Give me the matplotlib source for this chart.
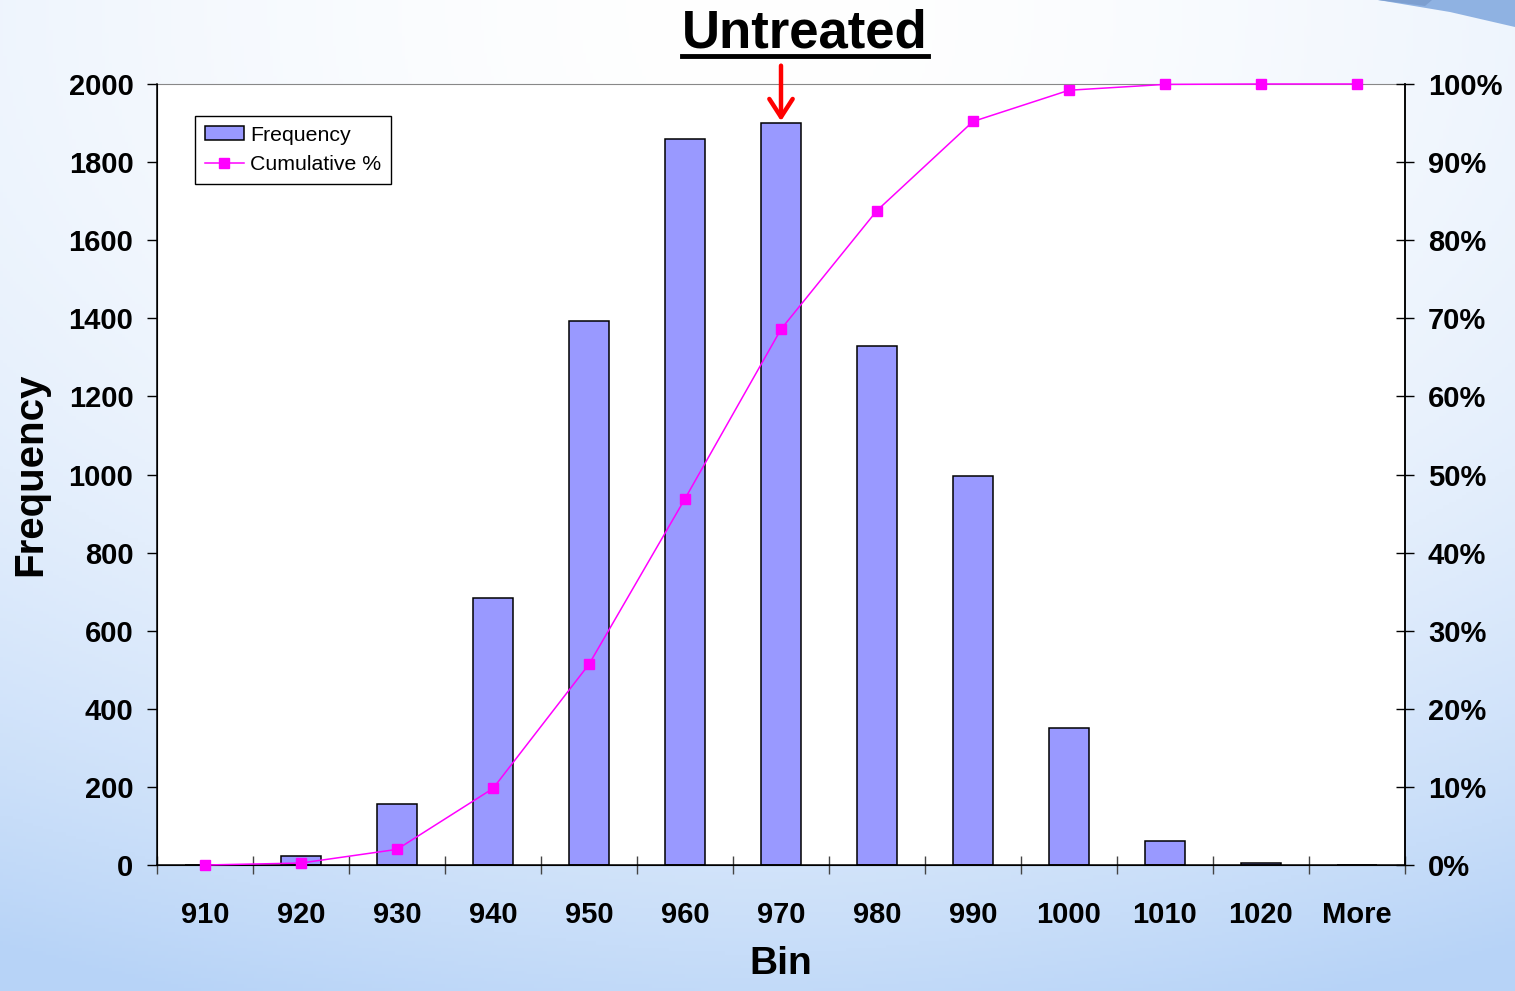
import numpy as np
import matplotlib
matplotlib.use("Agg")
import matplotlib.pyplot as plt
from matplotlib.lines import Line2D
from matplotlib.patches import Polygon
from matplotlib.ticker import FixedLocator, FuncFormatter

plt.rcParams['font.family'] = ['Liberation Sans', 'DejaVu Sans']

bins = ['910', '920', '930', '940', '950', '960', '970', '980', '990',
        '1000', '1010', '1020', 'More']
frequency = [0, 22, 156, 684, 1393, 1859, 1900, 1329, 996, 351, 61, 4, 0]
cumulative = [0.0, 0.25, 2.0, 9.8, 25.7, 46.9, 68.6, 83.8, 95.2, 99.2, 99.95, 100.0, 100.0]

W, H = 1515, 991
fig = plt.figure(figsize=(W / 100, H / 100), dpi=100)

# soft white-to-blue slide background
bg = fig.add_axes([0, 0, 1, 1], zorder=-10)
yy, xx = np.mgrid[0:1:300j, 0:1:460j]
t = np.clip(0.85 * yy ** 2.2 + 0.35 * np.abs(xx - 0.5) ** 1.6 * 2, 0, 1)
white = np.array([1.0, 1.0, 1.0])
blue = np.array([0.72, 0.83, 0.97])
img = white[None, None, :] * (1 - t[..., None]) + blue[None, None, :] * t[..., None]
bg.imshow(img, extent=[0, 1, 0, 1], aspect='auto', origin='upper')
bg.set_xlim(0, 1)
bg.set_ylim(0, 1)
bg.set_axis_off()
# blue swoosh in the top right corner
bg.add_patch(Polygon([(1378 / W, 1), (1.0, 1), (1.0, 1 - 27 / H), (1450 / W, 1 - 12 / H)],
                     closed=True, facecolor='#8fb2e2', edgecolor='none'))
bg.add_patch(Polygon([(1378 / W, 1), (1432 / W, 1), (1425 / W, 1 - 6 / H)],
                     closed=True, facecolor='#7d9fd0', edgecolor='none'))

left, right, top, bottom = 157, 1405, 84, 865
ax = fig.add_axes([left / W, (H - bottom) / H, (right - left) / W, (bottom - top) / H])
ax.set_facecolor('white')

x = np.arange(len(bins))
ax.bar(x, frequency, width=0.42, color='#9999ff', edgecolor='black', linewidth=1.1,
       label='Frequency', zorder=2)
ax.set_xlim(-0.5, len(bins) - 0.5)
ax.set_ylim(0, 2000)
ax.set_yticks(range(0, 2001, 200))

# category boundaries carry the ticks, labels sit at the centres
ax.xaxis.set_major_locator(FixedLocator(np.arange(-0.5, len(bins), 1.0)))
ax.xaxis.set_minor_locator(FixedLocator(x))
ax.xaxis.set_major_formatter(FuncFormatter(lambda v, p: ''))
ax.set_xticks(x, minor=True)
ax.set_xticklabels(bins, minor=True)
ax.tick_params(axis='x', which='major', direction='inout', length=13, width=1, color='#444444')
ax.tick_params(axis='x', which='minor', length=0, pad=26, labelsize=21)
ax.tick_params(axis='y', direction='out', length=7, width=1, pad=10, labelsize=21)
for lab in ax.get_xticklabels(minor=True) + ax.get_yticklabels():
    lab.set_fontweight('bold')

ax.spines['top'].set_color('#888888')
for s in ['left', 'bottom', 'right']:
    ax.spines[s].set_color('black')
    ax.spines[s].set_linewidth(1.1)

ax.set_ylabel('Frequency', fontsize=29, fontweight='bold', labelpad=14)
ax.set_xlabel('Bin', fontsize=28, fontweight='bold', labelpad=12)

ax2 = ax.twinx()
ax2.plot(x, cumulative, color='#ff00ff', linewidth=1.1, marker='s', markersize=6.5,
         label='Cumulative %', zorder=3, clip_on=False)
ax2.set_ylim(0, 100)
ax2.set_yticks(range(0, 101, 10))
ax2.yaxis.set_major_formatter(FuncFormatter(lambda v, p: f'{v:.0f}%'))
ax2.tick_params(axis='y', direction='inout', length=13, width=1, pad=10, labelsize=21)
for lab in ax2.get_yticklabels():
    lab.set_fontweight('bold')
ax2.spines['top'].set_visible(False)
ax2.spines['right'].set_color('black')
ax2.spines['right'].set_linewidth(1.1)

h1, l1 = ax.get_legend_handles_labels()
h2, l2 = ax2.get_legend_handles_labels()
leg = ax2.legend(h1 + h2, l1 + l2, loc='upper left', bbox_to_anchor=(0.0305, 0.959),
                 borderaxespad=0, fontsize=15.3, fancybox=False, framealpha=1,
                 edgecolor='black', borderpad=0.45, handlelength=1.85, handleheight=0.6,
                 handletextpad=0.3, labelspacing=0.5)
leg.get_frame().set_linewidth(1.0)

# arrow pointing at the tallest bin
ax.annotate('', xy=(6, 1905), xytext=(6, 2047), annotation_clip=False,
            arrowprops=dict(arrowstyle='->,head_length=0.65,head_width=0.42',
                            mutation_scale=20, color='red', lw=3.2,
                            shrinkA=0, shrinkB=0), zorder=5)

title = fig.text(805 / W, 1 - 33 / H, 'Untreated', fontsize=38, fontweight='bold',
                 ha='center', va='center')
fig.canvas.draw()
bb = title.get_window_extent().transformed(fig.transFigure.inverted())
fig.add_artist(Line2D([bb.x0, bb.x1], [bb.y0 + 0.002, bb.y0 + 0.002],
                      transform=fig.transFigure, color='black', linewidth=3.5))

fig.savefig('out.png', dpi=100)
